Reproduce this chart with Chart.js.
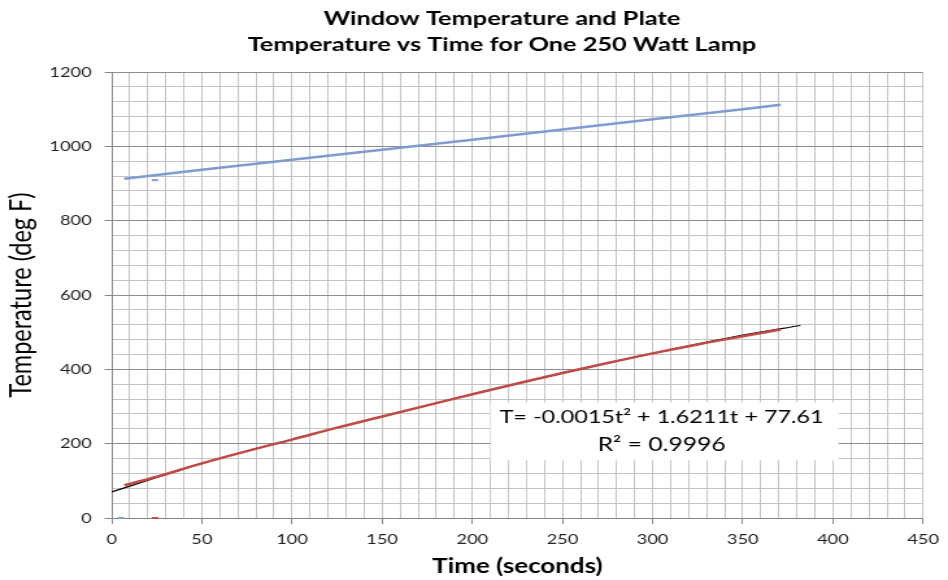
<!DOCTYPE html>
<html><head><meta charset="utf-8">
<script src="https://cdn.jsdelivr.net/npm/chart.js@4.4.1/dist/chart.umd.min.js"></script>
<style>html,body{margin:0;padding:0;background:#fff;}
#wrap{width:948px;height:580px;overflow:hidden;}
</style></head><body>
<div id="wrap"><canvas id="c" width="730" height="580" style="display:block;width:948px;height:580px;"></canvas></div>
<script>
// ---- data ----
const plateTime = [7, 50, 100, 150, 200, 250, 300, 350, 371];
const plateTemp = [913, 937, 964, 991, 1018, 1045, 1073, 1100, 1112];
const windowTime = [7, 25, 50, 75, 100, 125, 150, 175, 200, 225, 250, 275, 300, 325, 350, 371];
const windowTemp = [88, 111, 147, 180, 211, 243, 273, 303, 333, 362, 390, 417, 443, 467, 489, 507];
const fitTime = [0, 25, 50, 100, 150, 200, 250, 300, 350, 382];
const fitTemp = [70, 109, 147, 212, 273, 333, 390, 443, 492, 518];
const strayBlueTime = [24, 5];
const strayBlueTemp = [909, 0];
const strayRedTime = [24];
const strayRedTemp = [0];
const titleLines = ['Window Temperature and Plate', 'Temperature vs Time for One 250 Watt Lamp'];
const eqLines = ['T= -0.0015t\u00B2 + 1.6211t + 77.61', 'R\u00B2 = 0.9996'];
const xTitle = 'Time (seconds)';
const yTitle = 'Temperature (deg F)';

const pts = (xs, ys) => xs.map((x, i) => ({x, y: ys[i]}));

// label box placement (in data units)
const eqBox = {left: 210, right: 403, top: 311, bottom: 155, cx: 305, line1: 271, line2: 198};

const overlay = {
  id: 'overlay',
  beforeDatasetsDraw(chart) {
    const {ctx, scales: {x, y}} = chart;
    ctx.save();
    ctx.fillStyle = '#ffffff';
    const l = x.getPixelForValue(eqBox.left), r = x.getPixelForValue(eqBox.right);
    const t = y.getPixelForValue(eqBox.top), b = y.getPixelForValue(eqBox.bottom);
    ctx.fillRect(l, t, r - l, b - t);
    ctx.fillStyle = '#000';
    ctx.textAlign = 'center';
    ctx.textBaseline = 'middle';
    ctx.font = '18px Lato';
    ctx.fillText(eqLines[0], x.getPixelForValue(eqBox.cx), y.getPixelForValue(eqBox.line1));
    ctx.font = '19px Lato';
    ctx.fillText(eqLines[1], x.getPixelForValue(eqBox.cx), y.getPixelForValue(eqBox.line2));
    ctx.restore();
  },
  afterDraw(chart) {
    const {ctx} = chart;
    ctx.save();
    ctx.fillStyle = '#000';
    ctx.font = 'bold 19.5px Lato';
    ctx.textAlign = 'center';
    ctx.textBaseline = 'middle';
    ctx.fillText(titleLines[0], 386.5, 19);
    ctx.fillText(titleLines[1], 386.5, 45);
    ctx.restore();
  }
};

function draw() {
  Chart.defaults.font.family = 'Lato';
  new Chart(document.getElementById('c'), {
    type: 'scatter',
    data: {
      datasets: [
        {label: 'Plate', data: pts(plateTime, plateTemp), showLine: true, borderColor: '#7f9bcf', borderWidth: 2.5, pointRadius: 0, tension: 0},
        {label: 'Window', data: pts(windowTime, windowTemp), showLine: true, borderColor: '#be4b48', borderWidth: 2.5, pointRadius: 0, cubicInterpolationMode: 'monotone'},
        {label: 'Fit', data: pts(fitTime, fitTemp), showLine: true, borderColor: '#000000', borderWidth: 1.2, pointRadius: 0, cubicInterpolationMode: 'monotone'},
        {label: 'strayB', data: pts(strayBlueTime, strayBlueTemp), showLine: false, pointStyle: 'line', pointRadius: 2.5, borderColor: '#7f9bcf', borderWidth: 2, clip: false},
        {label: 'strayR', data: pts(strayRedTime, strayRedTemp), showLine: false, pointStyle: 'line', pointRadius: 2.5, borderColor: '#be4b48', borderWidth: 2, clip: false}
      ]
    },
    options: {
      responsive: false,
      animation: false,
      devicePixelRatio: 1,
      layout: {padding: {top: 72, right: 14.6, left: 0, bottom: 0}},
      plugins: {legend: {display: false}, tooltip: {enabled: false}, title: {display: false}},
      scales: {
        x: {
          type: 'linear', min: 0, max: 450,
          afterFit(s) { s.height = 62; },
          ticks: {stepSize: 10, autoSkip: false, maxRotation: 0, padding: 7, color: '#222',
            font: {size: 14}, callback: v => (v % 50 === 0 ? v : '')},
          grid: {color: '#c4c4c4', lineWidth: 1, tickLength: 6,
            tickColor: c => (c.tick && c.tick.value % 50 === 0 ? '#868686' : 'rgba(0,0,0,0)')},
          border: {color: '#868686', width: 1},
          title: {display: true, text: xTitle, color: '#000', font: {size: 20, weight: 'bold'}, padding: {top: 0, bottom: 1}}
        },
        y: {
          type: 'linear', min: 0, max: 1200,
          afterFit(s) { s.width = 86; },
          ticks: {stepSize: 40, autoSkip: false, padding: 10, color: '#222',
            font: {size: 14}, callback: v => (v % 200 === 0 ? v : '')},
          grid: {lineWidth: 1, tickLength: 5.4,
            color: c => (c.tick && c.tick.value % 200 === 0 ? '#8c8c8c' : '#c4c4c4'),
            tickColor: c => (c.tick && c.tick.value % 200 === 0 ? '#868686' : 'rgba(0,0,0,0)')},
          border: {color: '#868686', width: 1},
          title: {display: true, text: yTitle, color: '#000', font: {size: 23.5, weight: 'normal'}, padding: {top: 2, bottom: 0}}
        }
      }
    },
    plugins: [overlay]
  });
}
Promise.all([document.fonts.load('17px Lato'), document.fonts.load('bold 17px Lato')]).then(draw, draw);
</script>
</body></html>
